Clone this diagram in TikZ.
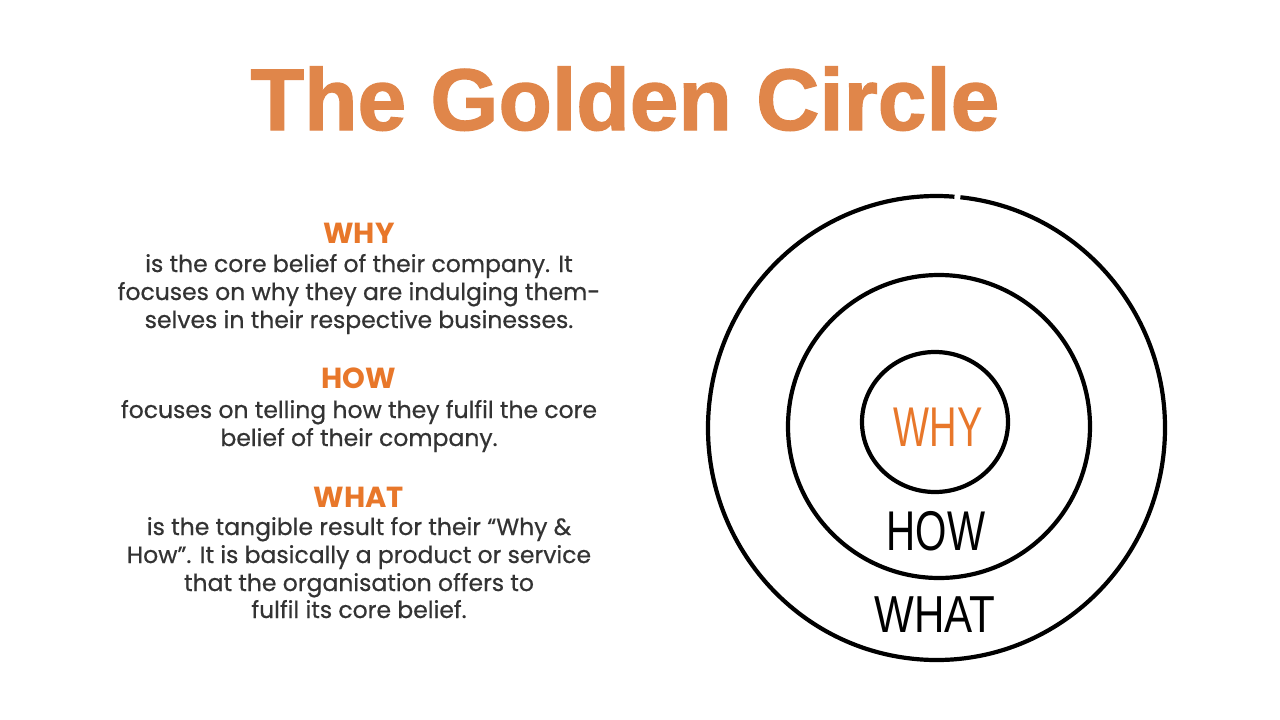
\documentclass[tikz,border=0pt]{standalone}
\usepackage{fontspec}
\setmainfont{Liberation Sans}
\newfontfamily\bodyfam{Poppins}[FakeBold=0.6]
\newfontfamily\headfam{Poppins}[UprightFont=* Bold]
\newfontfamily\titlefam{Liberation Sans}[UprightFont=* Bold, FakeBold=1.5]
\newfontfamily\handfam{Liberation Sans}
\definecolor{titleorange}{HTML}{E0864A}
\definecolor{headorange}{HTML}{E8772A}
\definecolor{textgray}{HTML}{333333}
\tikzset{
  bodyline/.style={font=\bodyfam\fontsize{23.5}{28}\selectfont, text=textgray, anchor=base, inner sep=0},
  headline/.style={font=\headfam\fontsize{29}{30}\selectfont, text=headorange, anchor=base, inner sep=0},
  ring/.style={draw=black, line width=4.2pt},
  handlabel/.style={anchor=base, inner sep=0, text=black}
}
\begin{document}
\begin{tikzpicture}[x=1pt,y=-1pt]
\useasboundingbox[fill=white] (0,0) rectangle (1280,720);
% title
\node[anchor=base, inner sep=0, text=titleorange, font=\titlefam\fontsize{87.5}{90}\selectfont] (title) at (625,130) {The Golden Circle};
% left column
\node[headline] (whyh) at (359,243) {WHY};
\node[bodyline] (why1) at (359,272) {is the core belief of their company. It};
\node[bodyline] (why2) at (359,300) {focuses on why they are indulging them-};
\node[bodyline] (why3) at (359,328) {selves in their respective businesses.};
\node[headline] (howh) at (359,388) {HOW};
\node[bodyline] (how1) at (359,418) {focuses on telling how they fulfil the core};
\node[bodyline] (how2) at (359,446) {belief of their company.};
\node[headline] (whath) at (359,507) {WHAT};
\node[bodyline] (what1) at (359,535) {is the tangible result for their “Why \&};
\node[bodyline] (what2) at (359,563) {How”. It is basically a product or service};
\node[bodyline] (what3) at (359,591) {that the organisation offers to};
\node[bodyline] (what4) at (359,618) {fulfil its core belief.};
% circles
\draw[ring] (936.5,428) ++(-84:228.5 and 232) arc[start angle=-84, end angle=274.5, x radius=228.5, y radius=232];
\draw[ring] (939,426.5) ellipse[x radius=151, y radius=151.5];
\draw[ring] (935,422) ellipse[x radius=73, y radius=70];
% circle labels
\node[handlabel, text=headorange, font=\handfam\fontsize{56}{56}\selectfont] (cwhy) at (938,446) {\scalebox{0.68}[1]{WHY}};
\node[handlabel, font=\handfam\fontsize{56}{56}\selectfont] (chow) at (936,550) {\scalebox{0.72}[1]{HOW}};
\node[handlabel, font=\handfam\fontsize{52}{52}\selectfont] (cwhat) at (935,632) {\scalebox{0.81}[1]{WHAT}};
\end{tikzpicture}
\end{document}
